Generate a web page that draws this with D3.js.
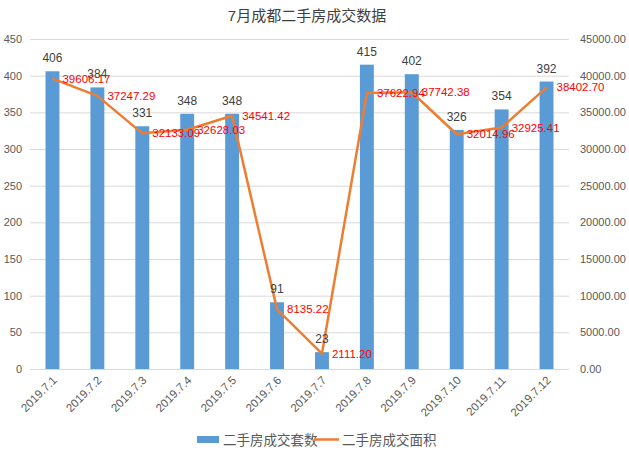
<!DOCTYPE html>
<html><head><meta charset="utf-8">
<script src="https://cdn.jsdelivr.net/npm/d3@7"></script>
<style>body{margin:0;background:#fff;}svg{display:block;font-family:"Liberation Sans","Noto Sans CJK SC",sans-serif;}</style>
</head><body><svg id="c" width="629" height="453"></svg>
<script>
const categories = ["2019.7.1","2019.7.2","2019.7.3","2019.7.4","2019.7.5","2019.7.6","2019.7.7","2019.7.8","2019.7.9","2019.7.10","2019.7.11","2019.7.12"];
const counts = [406,384,331,348,348,91,23,415,402,326,354,392];
const areas = [39606.17,37247.29,32133.09,32628.03,34541.42,8135.22,2111.20,37622.94,37742.38,32014.96,32925.41,38402.70];
const leftTicks = [0,50,100,150,200,250,300,350,400,450];
const rightTicks = [0,5000,10000,15000,20000,25000,30000,35000,40000,45000];
const seriesNames = ["二手房成交套数","二手房成交面积"];
const title = "7月成都二手房成交数据";

const svg = d3.select("#c");
const L=30, R=569, T=39, B=369;
const x = d3.scaleBand().domain(categories).range([L,R]).paddingInner(0.69).paddingOuter(0.345);
const yL = d3.scaleLinear().domain([0,450]).range([B,T]);
const yR = d3.scaleLinear().domain([0,45000]).range([B,T]);
const cx = d => x(d)+x.bandwidth()/2;

svg.append("text").attr("x",307).attr("y",21).attr("text-anchor","middle").attr("font-size",15).attr("fill","#404040").text(title);

// grid
svg.append("g").selectAll("line").data(leftTicks).join("line")
 .attr("x1",L).attr("x2",R).attr("y1",d=>yL(d)+0.5).attr("y2",d=>yL(d)+0.5).attr("stroke","#D9D9D9").attr("stroke-width",1);

// left axis
const gl = svg.append("g").attr("transform",`translate(${L},0)`).call(d3.axisLeft(yL).tickValues(leftTicks).tickSize(0).tickPadding(8));
gl.select(".domain").remove();
gl.selectAll("text").attr("font-size",11).attr("fill","#595959").attr("font-family","Liberation Sans, sans-serif");

const gr = svg.append("g").attr("transform",`translate(${R},0)`).call(d3.axisRight(yR).tickValues(rightTicks).tickSize(0).tickPadding(11).tickFormat(d3.format(".2f")));
gr.select(".domain").remove();
gr.selectAll("text").attr("font-size",11).attr("fill","#595959").attr("font-family","Liberation Sans, sans-serif");

const gx = svg.append("g").attr("transform",`translate(0,${B})`).call(d3.axisBottom(x).tickSize(0).tickPadding(0));
gx.select(".domain").remove();
gx.selectAll("text").attr("font-size",11.5).attr("fill","#595959").attr("text-anchor","end")
 .attr("dy",0).attr("transform","translate(5,12) rotate(-45)");

// bars
svg.append("g").selectAll("rect").data(categories).join("rect")
 .attr("x",d=>x(d)).attr("width",x.bandwidth())
 .attr("y",(d,i)=>yL(counts[i])).attr("height",(d,i)=>B-yL(counts[i])).attr("fill","#5B9BD5");

// line
const line = d3.line().x((d,i)=>cx(categories[i])).y(d=>yR(d));
svg.append("path").datum(areas).attr("d",line).attr("fill","none").attr("stroke","#ED7D31").attr("stroke-width",2.5).attr("stroke-linejoin","round");

// bar labels
svg.append("g").selectAll("text").data(categories).join("text")
 .attr("x",d=>cx(d)).attr("y",(d,i)=>yL(counts[i])-9).attr("text-anchor","middle")
 .attr("font-size",12).attr("fill","#404040").text((d,i)=>counts[i]);

// line labels
svg.append("g").selectAll("text").data(categories).join("text")
 .attr("x",d=>cx(d)+10).attr("y",(d,i)=>yR(areas[i])+4).attr("text-anchor","start")
 .attr("font-size",11.5).attr("fill","#FF0000").text((d,i)=>areas[i].toFixed(2));

// legend
const lg = svg.append("g");
lg.append("rect").attr("x",197).attr("y",436).attr("width",22).attr("height",7).attr("fill","#5B9BD5");
lg.append("text").attr("x",223).attr("y",444.5).attr("font-size",13.5).attr("fill","#595959").text(seriesNames[0]);
lg.append("line").attr("x1",314).attr("x2",339).attr("y1",439.5).attr("y2",439.5).attr("stroke","#ED7D31").attr("stroke-width",2.5);
lg.append("text").attr("x",342).attr("y",444.5).attr("font-size",13.5).attr("fill","#595959").text(seriesNames[1]);
</script></body></html>
